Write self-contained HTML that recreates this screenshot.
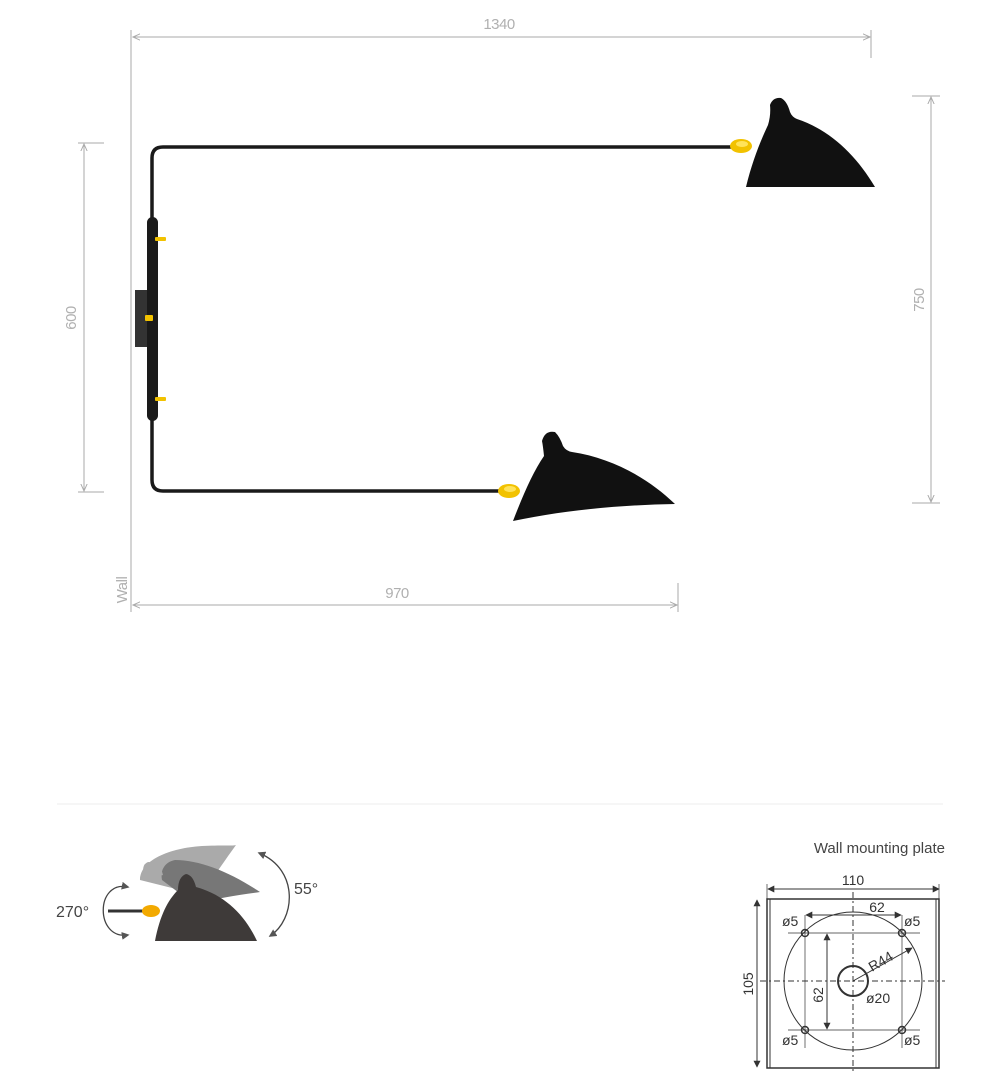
<!DOCTYPE html>
<html><head><meta charset="utf-8"><style>
html,body{margin:0;padding:0;background:#fff;}
svg{display:block;font-family:"Liberation Sans",sans-serif;}
</style></head><body>
<svg width="1000" height="1077" viewBox="0 0 1000 1077" xmlns="http://www.w3.org/2000/svg">
<defs>
<marker id="ag" viewBox="0 0 10 10" refX="9" refY="5" markerWidth="8" markerHeight="8" orient="auto-start-reverse"><path d="M0,1 L9,5 L0,9" fill="none" stroke="#aaa" stroke-width="1.2"/></marker>
<marker id="ak" viewBox="0 0 10 10" refX="9" refY="5" markerWidth="7" markerHeight="7" orient="auto-start-reverse"><path d="M0,0 L10,5 L0,10 Z" fill="#333"/></marker>
<marker id="ad" viewBox="0 0 10 10" refX="8" refY="5" markerWidth="6" markerHeight="6" orient="auto-start-reverse"><path d="M0,0 L10,5 L0,10 Z" fill="#555"/></marker>
</defs>
<g stroke="#aaa" stroke-width="1" fill="none">
<line x1="131" y1="30" x2="131" y2="612"/>
<line x1="133" y1="37" x2="870" y2="37" marker-start="url(#ag)" marker-end="url(#ag)"/>
<line x1="871" y1="30" x2="871" y2="58"/>
<line x1="84" y1="144" x2="84" y2="491" marker-start="url(#ag)" marker-end="url(#ag)"/>
<line x1="78" y1="143" x2="104" y2="143"/>
<line x1="78" y1="492" x2="104" y2="492"/>
<line x1="931" y1="97" x2="931" y2="502" marker-start="url(#ag)" marker-end="url(#ag)"/>
<line x1="912" y1="96" x2="940" y2="96"/>
<line x1="912" y1="503" x2="940" y2="503"/>
<line x1="133" y1="605" x2="677" y2="605" marker-start="url(#ag)" marker-end="url(#ag)"/>
<line x1="678" y1="583" x2="678" y2="612"/>
</g>
<g fill="#b0b0b0" font-size="15" letter-spacing="-0.5">
<text x="499" y="29" text-anchor="middle">1340</text>
<text x="397" y="598" text-anchor="middle">970</text>
<text transform="translate(76,318) rotate(-90)" text-anchor="middle">600</text>
<text transform="translate(924,300) rotate(-90)" text-anchor="middle">750</text>
<text transform="translate(127,590) rotate(-90)" text-anchor="middle">Wall</text>
</g>
<rect x="135" y="290" width="12" height="57" fill="#333"/>
<path d="M735,147 L163,147 Q152,147 152,158 L152,220 M152,415 L152,480 Q152,491 163,491 L505,491" stroke="#1a1a1a" stroke-width="3.5" fill="none"/>
<rect x="147" y="217" width="11" height="204" rx="5.5" fill="#1a1a1a"/>
<g fill="#f2c200">
<rect x="155" y="237" width="11" height="4" rx="1"/>
<rect x="145" y="315" width="8" height="6" rx="1"/>
<rect x="155" y="397" width="11" height="4" rx="1"/>
</g>
<path d="M746,187 C752,162 760,142 768,125 Q771,115 770,105 Q773,97 781,98 Q787,101 790,112 Q792,117 797,119 C830,130 856,155 875,187 Z" fill="#111"/>
<ellipse cx="741" cy="146" rx="11" ry="7" fill="#f2c200"/>
<ellipse cx="742" cy="144" rx="6" ry="3" fill="#ffe35a"/>
<path d="M513,521 C523,495 533,472 544,456 Q543,446 542,441 Q545,430 555,432 Q560,437 563,446 Q566,451 572,452 C612,458 648,478 675,504 C620,505 565,510 513,521 Z" fill="#111"/>
<ellipse cx="509" cy="491" rx="11" ry="7" fill="#f2c200"/>
<ellipse cx="510" cy="489" rx="6" ry="3" fill="#ffe35a"/>
<line x1="57" y1="804" x2="943" y2="804" stroke="#eee" stroke-width="1"/>
<path d="M140,880 C140,860 170,848 202,846 C220,845 235,846 236,845 C225,860 212,880 200,895 Z" fill="#aaa"/>
<path d="M162,880 C160,870 165,862 175,860 C200,860 230,872 260,892 C240,895 215,898 195,905 Z" fill="#777"/>
<path d="M145,880 Q140,865 148,862 Q160,862 163,875 Z" fill="#aaa"/>
<path d="M155,941 C160,915 168,900 178,890 Q178,877 186,874 Q193,875 196,887 C225,895 245,915 257,941 Z" fill="#3e3a39"/>
<line x1="108" y1="911" x2="145" y2="911" stroke="#333" stroke-width="3"/>
<ellipse cx="151" cy="911" rx="9" ry="6" fill="#f2a900"/>
<path d="M128,887 C95,880 95,940 128,935" stroke="#444" stroke-width="1.3" fill="none" marker-start="url(#ad)" marker-end="url(#ad)"/>
<path d="M259,853 C300,870 295,920 270,936" stroke="#444" stroke-width="1.3" fill="none" marker-start="url(#ad)" marker-end="url(#ad)"/>
<text x="56" y="917" font-size="16" fill="#444">270°</text>
<text x="294" y="894" font-size="16" fill="#444">55°</text>
<text x="945" y="853" font-size="15" fill="#444" text-anchor="end">Wall mounting plate</text>
<g stroke="#333" fill="none">
<rect x="767" y="899" width="172" height="169" stroke-width="1.5"/>
<line x1="770" y1="899" x2="770" y2="1068" stroke-width="1"/>
<line x1="936" y1="899" x2="936" y2="1068" stroke-width="1"/>
<circle cx="853" cy="981" r="69" stroke-width="1"/>
<circle cx="853" cy="981" r="15" stroke-width="2"/>
<line x1="853" y1="892" x2="853" y2="1072" stroke-dasharray="6,3,2,3" stroke-width="1"/>
<line x1="760" y1="981" x2="945" y2="981" stroke-dasharray="6,3,2,3" stroke-width="1"/>
<line x1="805" y1="915" x2="805" y2="1048" stroke-width="0.7"/>
<line x1="902" y1="915" x2="902" y2="1048" stroke-width="0.7"/>
<line x1="788" y1="933" x2="920" y2="933" stroke-width="0.7"/>
<line x1="788" y1="1030" x2="920" y2="1030" stroke-width="0.7"/>
<circle cx="805" cy="933" r="3.5" stroke-width="1.5"/>
<circle cx="902" cy="933" r="3.5" stroke-width="1.5"/>
<circle cx="805" cy="1030" r="3.5" stroke-width="1.5"/>
<circle cx="902" cy="1030" r="3.5" stroke-width="1.5"/>
<line x1="768" y1="889" x2="939" y2="889" stroke-width="1" marker-start="url(#ak)" marker-end="url(#ak)"/>
<line x1="767" y1="884" x2="767" y2="899" stroke-width="0.7"/>
<line x1="939" y1="884" x2="939" y2="899" stroke-width="0.7"/>
<line x1="757" y1="900" x2="757" y2="1067" stroke-width="1" marker-start="url(#ak)" marker-end="url(#ak)"/>
<line x1="806" y1="915" x2="901" y2="915" stroke-width="1" marker-start="url(#ak)" marker-end="url(#ak)"/>
<line x1="827" y1="934" x2="827" y2="1029" stroke-width="1" marker-start="url(#ak)" marker-end="url(#ak)"/>
<line x1="853" y1="981" x2="912" y2="948" stroke-width="1" marker-end="url(#ak)"/>
</g>
<g fill="#333" font-size="14">
<text x="853" y="885" text-anchor="middle">110</text>
<text x="877" y="912" text-anchor="middle">62</text>
<text x="782" y="926">ø5</text>
<text x="904" y="926">ø5</text>
<text x="782" y="1045">ø5</text>
<text x="904" y="1045">ø5</text>
<text x="866" y="1003">ø20</text>
<text transform="translate(872,972) rotate(-30)">R44</text>
<text transform="translate(753,984) rotate(-90)" text-anchor="middle">105</text>
<text transform="translate(823,995) rotate(-90)" text-anchor="middle">62</text>
</g>
</svg>
</body></html>
